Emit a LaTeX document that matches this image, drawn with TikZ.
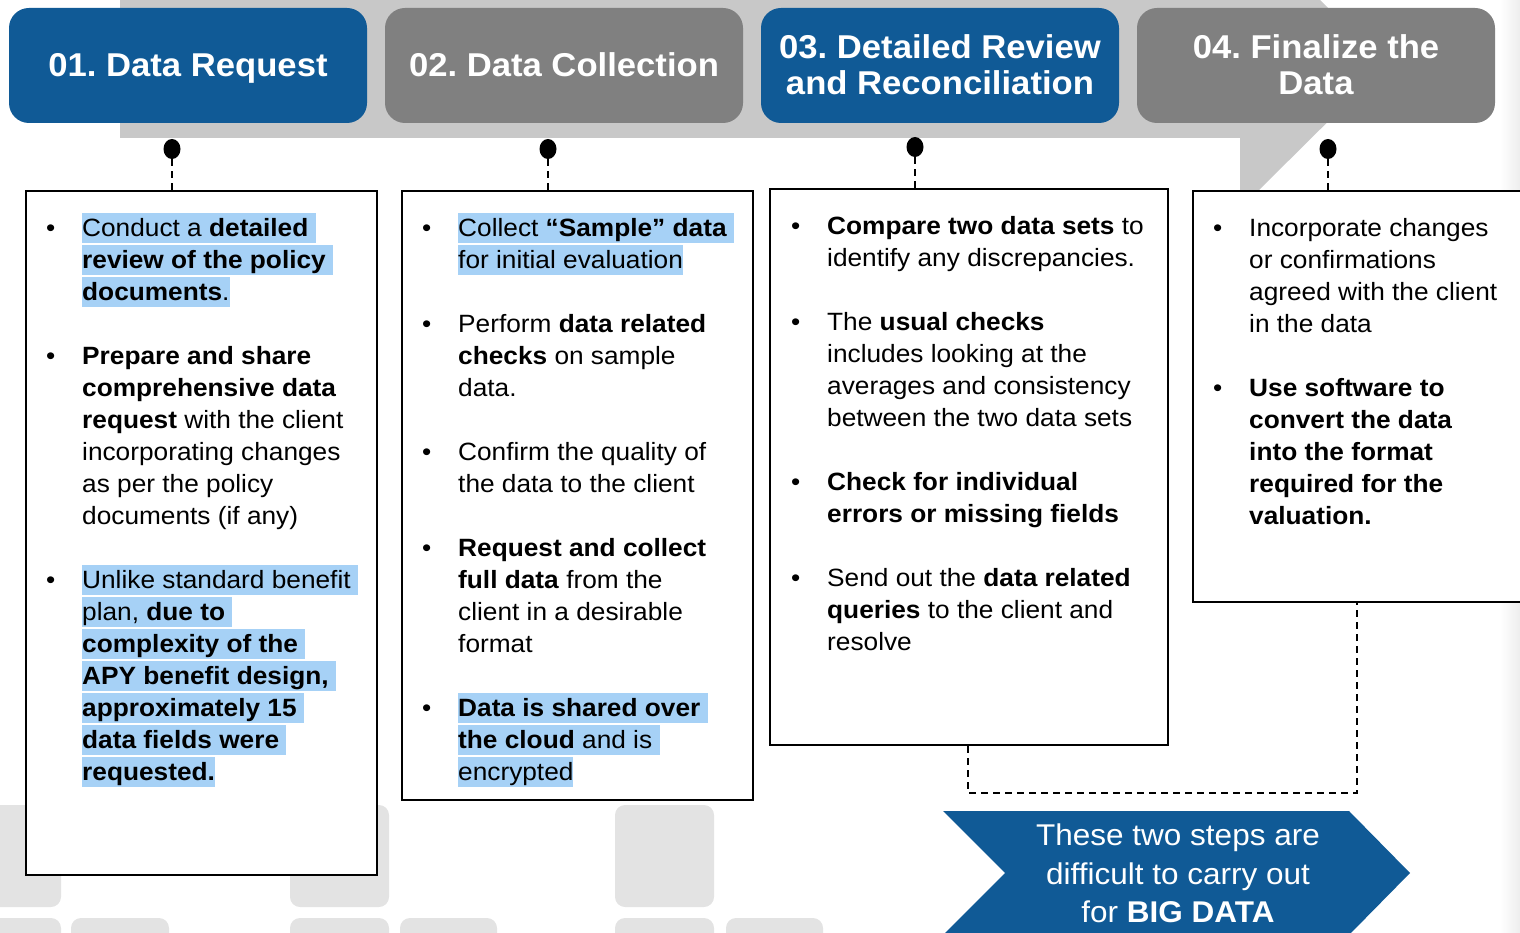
\documentclass[tikz,border=0pt]{standalone}
\usepackage{fontspec}
\setmainfont{Liberation Sans}[FakeStretch=1.05]
\usetikzlibrary{shapes.geometric}
\frenchspacing
\definecolor{hdrblue}{RGB}{16,90,150}
\definecolor{hdrgray}{RGB}{128,128,128}
\definecolor{bandgray}{RGB}{200,200,200}
\definecolor{tilegray}{RGB}{227,227,227}
\definecolor{hlblue}{RGB}{166,209,246}
\newcommand\hdrfont{\fontsize{33}{36}\selectfont\bfseries}
\newcommand\bodyfont{\fontsize{25}{32}\selectfont}
\newcommand\chevfont{\fontsize{30}{38.5}\selectfont}
\newcommand\lnstrut{\rule[-6pt]{0pt}{30pt}}
\newcommand\hdstrut{\rule[-8pt]{0pt}{34pt}}
\newcommand\hlt[1]{{\setlength{\fboxsep}{0pt}\colorbox{hlblue}{\lnstrut#1}}}
\newcommand\bul{\makebox[36pt][l]{\lnstrut•}}
\newcommand\nob{\hspace*{36pt}\lnstrut}
\tikzset{
  hdr/.style={rounded corners=20pt, minimum width=358pt, minimum height=115pt, inner sep=0pt},
  hdrtxt/.style={inner sep=0pt, text=white, font=\hdrfont, align=center},
  cbox/.style={draw=black, line width=2.2pt, fill=white, inner sep=0pt},
  dotn/.style={ellipse, fill=black, minimum width=17pt, minimum height=20pt, inner sep=0pt},
  conn/.style={line width=2pt, dash pattern=on 7pt off 5pt},
  txt/.style={anchor=north west, inner sep=0pt, align=left, font=\bodyfont},
  tile/.style={fill=tilegray, rounded corners=10pt}
}
\begin{document}
\begin{tikzpicture}[x=1pt,y=-1pt]
\useasboundingbox (0,0) rectangle (1520,933);
\begin{scope}
\clip (0,0) rectangle (1520,933);
% background band
\fill[bandgray] (120,0) -- (1320,0) -- (1385,65) -- (1259,190) -- (1240,190) -- (1240,138) -- (120,138) -- cycle;
% faint right strip
\shade[left color=white, right color=black!7] (1500,0) rectangle (1520,933);
% tiles
\fill[tile] (-20,805) rectangle (61,907);
\fill[tile] (-20,918) rectangle (61,960);
\fill[tile] (71,918) rectangle (169,960);
\fill[tile] (290,805) rectangle (389,907);
\fill[tile] (290,918) rectangle (389,960);
\fill[tile] (400,918) rectangle (497,960);
\fill[tile] (615,805) rectangle (714,907);
\fill[tile] (615,918) rectangle (714,960);
\fill[tile] (726,918) rectangle (823,960);
% headers
\node[hdr, fill=hdrblue] (h1) at (188,65.5) {};
\node[hdr, fill=hdrgray] (h2) at (564,65.5) {};
\node[hdr, fill=hdrblue] (h3) at (940,65.5) {};
\node[hdr, fill=hdrgray] (h4) at (1316,65.5) {};
\node[hdrtxt] (h1t) at (188,67.3) {\hdstrut 01. Data Request};
\node[hdrtxt] (h2t) at (564,67.3) {\hdstrut 02. Data Collection};
\node[hdrtxt] (h3t) at (940,67.3) {\hdstrut 03. Detailed Review\\\hdstrut and Reconciliation};
\node[hdrtxt] (h4t) at (1316,67.3) {\hdstrut 04. Finalize the\\\hdstrut Data};
% content boxes
\node[cbox, minimum width=351pt, minimum height=684pt] (b1) at (201.5,533) {};
\node[cbox, minimum width=351pt, minimum height=609pt] (b2) at (577.5,495.5) {};
\node[cbox, minimum width=398pt, minimum height=556pt] (b3) at (969,467) {};
\node[cbox, minimum width=360pt, minimum height=411pt] (b4) at (1373,396.5) {};
% dots and connectors
\node[dotn] (d1) at (172,149) {};
\node[dotn] (d2) at (548,149) {};
\node[dotn] (d3) at (915,147) {};
\node[dotn] (d4) at (1328,149) {};
\draw[conn] (d1.south) -- (d1 |- b1.north);
\draw[conn] (d2.south) -- (d2 |- b2.north);
\draw[conn] (d3.south) -- (d3 |- b3.north);
\draw[conn] (d4.south) -- (d4 |- b4.north);
\coordinate (c3) at (968,793);
\coordinate (c4) at (1357,793);
\draw[conn] (b3.south -| c3) -- (c3) -- (c4) -- (b4.south -| c4);
% chevron
\fill[hdrblue] (943,811) -- (1349,811) -- (1410,873) -- (1349,935) -- (943,935) -- (1005,873) -- cycle;
\node[font=\chevfont, text=white, align=center, inner sep=0pt] (chev) at (1178,873.5) {These two steps are\\difficult to carry out\\for \textbf{BIG DATA}};
% texts
\node[txt] (t1) at (46,212.7) {%
\bul\hlt{Conduct a \textbf{detailed} }\\
\nob\hlt{\textbf{review of the policy} }\\
\nob\hlt{\textbf{documents}.}\\
\lnstrut\\
\bul\textbf{Prepare and share}\\
\nob\textbf{comprehensive data}\\
\nob\textbf{request} with the client\\
\nob incorporating changes\\
\nob as per the policy\\
\nob documents (if any)\\
\lnstrut\\
\bul\hlt{Unlike standard benefit }\\
\nob\hlt{plan, \textbf{due to} }\\
\nob\hlt{\textbf{complexity of the} }\\
\nob\hlt{\textbf{APY benefit design,} }\\
\nob\hlt{\textbf{approximately 15} }\\
\nob\hlt{\textbf{data fields were} }\\
\nob\hlt{\textbf{requested.}}};
\node[txt] (t2) at (422,212.7) {%
\bul\hlt{Collect \textbf{“Sample” data} }\\
\nob\hlt{for initial evaluation}\\
\lnstrut\\
\bul Perform \textbf{data related}\\
\nob\textbf{checks} on sample\\
\nob data.\\
\lnstrut\\
\bul Confirm the quality of\\
\nob the data to the client\\
\lnstrut\\
\bul\textbf{Request and collect}\\
\nob\textbf{full data} from the\\
\nob client in a desirable\\
\nob format\\
\lnstrut\\
\bul\hlt{\textbf{Data is shared over} }\\
\nob\hlt{\textbf{the cloud} and is }\\
\nob\hlt{encrypted}};
\node[txt] (t3) at (791,210.7) {%
\bul\textbf{Compare two data sets} to\\
\nob identify any discrepancies.\\
\lnstrut\\
\bul The \textbf{usual checks}\\
\nob includes looking at the\\
\nob averages and consistency\\
\nob between the two data sets\\
\lnstrut\\
\bul\textbf{Check for individual}\\
\nob\textbf{errors or missing fields}\\
\lnstrut\\
\bul Send out the \textbf{data related}\\
\nob\textbf{queries} to the client and\\
\nob resolve};
\node[txt] (t4) at (1213,212.7) {%
\bul Incorporate changes\\
\nob or confirmations\\
\nob agreed with the client\\
\nob in the data\\
\lnstrut\\
\bul\textbf{Use software to}\\
\nob\textbf{convert the data}\\
\nob\textbf{into the format}\\
\nob\textbf{required for the}\\
\nob\textbf{valuation.}};
\end{scope}
\end{tikzpicture}
\end{document}
